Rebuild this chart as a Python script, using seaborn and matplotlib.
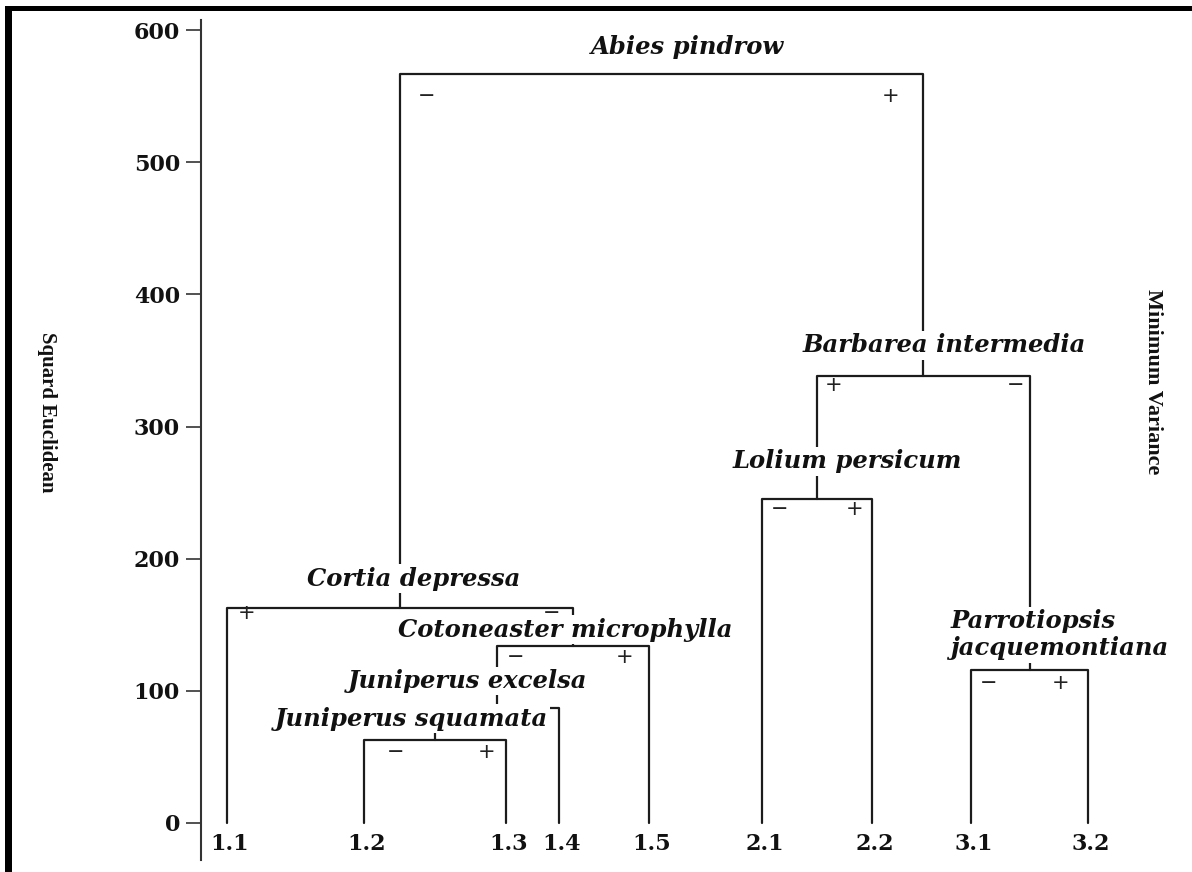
import matplotlib
matplotlib.use("Agg")
import matplotlib.pyplot as plt
import numpy as np
import pandas as pd
import seaborn as sns
from matplotlib.patches import Rectangle

# ---- data -------------------------------------------------------------
leaf_labels = ["1.1", "1.2", "1.3", "1.4", "1.5", "2.1", "2.2", "3.1", "3.2"]

# linkage: children refer to leaves (0..8) or earlier merges (9..)
merge_left = [1, 9, 10, 5, 7, 0, 12, 14]
merge_right = [2, 3, 4, 6, 8, 11, 13, 15]
merge_height = [63, 87, 134, 245, 116, 163, 338, 567]
merge_names = [
    "Juniperus squamata",
    "Juniperus excelsa",
    "Cotoneaster microphylla",
    "Lolium persicum",
    "Parrotiopsis\njacquemontiana",
    "Cortia depressa",
    "Barbarea intermedia",
    "Abies pindrow",
]
left_signs = ["\u2212", "", "\u2212", "\u2212", "\u2212", "+", "+", "\u2212"]
right_signs = ["+", "", "+", "+", "+", "\u2212", "\u2212", "+"]

y_ticks = [0, 100, 200, 300, 400, 500, 600]

# ---- layout -----------------------------------------------------------
leaf_x = [26, 163, 305, 358, 448, 561, 671, 770, 887]
name_offsets = [(-24, 21), (-29, 27), (-8, 16), (30, 38), (-79, 35),
                (14, 29), (21, 31), (26, 27)]
name_align = ["center", "center", "center", "center", "left",
              "center", "center", "center"]
sign_dx = [(32, -19), (0, 0), (19, -24), (18, -17), (18, -27),
           (20, -21), (17, -14), (27, -33)]
sign_dy = [-12, 0, -11, -10, -13, -5, -9, -22]

W, H = 1192, 872
sns.set_theme(style="white")
plt.rcParams["font.family"] = ["DejaVu Serif", "DejaVu Sans"]

fig = plt.figure(figsize=(W / 100, H / 100), dpi=100)
ax = fig.add_axes([201 / W, 12 / H, (W - 201) / W, (860 - 20) / H])

# dendrogram links as U-shaped polylines
n_leaves = len(leaf_labels)
pos = {i: (leaf_x[i], 0.0) for i in range(n_leaves)}
rows = []
for k, (l, r, h) in enumerate(zip(merge_left, merge_right, merge_height)):
    xl, yl = pos[l]
    xr, yr = pos[r]
    for px, py in [(xl, yl), (xl, h), (xr, h), (xr, yr)]:
        rows.append({"link": k, "x": px, "y": py})
    pos[n_leaves + k] = ((xl + xr) / 2, h)
links = pd.DataFrame(rows)

sns.lineplot(data=links, x="x", y="y", units="link", estimator=None,
             sort=False, color="#1c1c1c", linewidth=1.6, legend=False, ax=ax)

ax.set_xlim(0, W - 201)
ax.set_ylim(-28, 607.6)
ax.set_xticks([])
ax.set_yticks(y_ticks)
ax.set_yticklabels([str(t) for t in y_ticks], fontfamily="DejaVu Serif",
                   fontweight="bold", fontsize=16, color="#111111")
ax.tick_params(axis="y", direction="out", length=10.8, width=1.2,
               color="#333333", pad=4.3, left=True)
ax.set_xlabel("")
ax.set_ylabel("")
for side in ["top", "right", "bottom"]:
    ax.spines[side].set_visible(False)
ax.spines["left"].set_color("#333333")
ax.spines["left"].set_linewidth(1.5)

# leaf labels
for x, lab in zip(leaf_x, leaf_labels):
    ax.text(x + 3, -16, lab, ha="center", va="center",
            fontfamily="DejaVu Serif", fontweight="bold", fontsize=16,
            color="#111111")

# cluster names and branch signs
for k, (l, r, h) in enumerate(zip(merge_left, merge_right, merge_height)):
    cx, _ = pos[n_leaves + k]
    dx, dy = name_offsets[k]
    ax.annotate(merge_names[k], xy=(cx, h), xytext=(dx, dy),
                textcoords="offset pixels", ha=name_align[k], va="center",
                multialignment="left", fontfamily="DejaVu Serif",
                fontweight="bold", fontstyle="italic", fontsize=17.5,
                color="#111111", zorder=5, linespacing=1.15,
                bbox=dict(boxstyle="square,pad=0.1", fc="white", ec="none"))
    xl = pos[l][0]
    xr = pos[r][0]
    if left_signs[k]:
        ax.annotate(left_signs[k], xy=(xl, h),
                    xytext=(sign_dx[k][0], sign_dy[k]),
                    textcoords="offset pixels", ha="center", va="center",
                    fontfamily="DejaVu Sans", fontsize=15, color="#222222",
                    zorder=6)
    if right_signs[k]:
        ax.annotate(right_signs[k], xy=(xr, h),
                    xytext=(sign_dx[k][1], sign_dy[k]),
                    textcoords="offset pixels", ha="center", va="center",
                    fontfamily="DejaVu Sans", fontsize=15, color="#222222",
                    zorder=6)

# axis titles
fig.text(47 / W, 1 - 412 / H, "Squard Euclidean", rotation=270,
         ha="center", va="center", fontfamily="Liberation Serif",
         fontweight="bold", fontsize=15, color="#111111")
fig.text(1153 / W, 1 - 382 / H, "Minimum Variance", rotation=270,
         ha="center", va="center", fontfamily="Liberation Serif",
         fontweight="bold", fontsize=16, color="#111111")

# heavy frame on the left and top edges
fig.add_artist(Rectangle((5 / W, 0), 7 / W, 1 - 6 / H,
                         transform=fig.transFigure, color="black", lw=0))
fig.add_artist(Rectangle((5 / W, 1 - 11 / H), 1 - 5 / W, 5 / H,
                         transform=fig.transFigure, color="black", lw=0))

fig.savefig("out.png", dpi=100)
